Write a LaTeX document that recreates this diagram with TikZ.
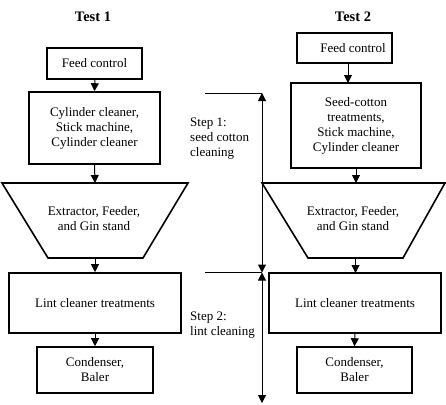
\documentclass[tikz,border=0pt]{standalone}
\usepackage{fontspec}
\setmainfont{Liberation Serif}
\usetikzlibrary{arrows.meta}
\begin{document}
\begin{tikzpicture}[x=1pt,y=-1pt,
  box/.style={draw, line width=1.6pt, inner sep=0pt, align=center, font=\fontsize{13}{15}\selectfont},
  txt/.style={inner sep=0pt, align=center, font=\fontsize{13}{15}\selectfont},
  steptxt/.style={inner sep=0pt, align=left, anchor=west, font=\fontsize{13}{15.2}\selectfont},
  title/.style={inner sep=0pt, font=\fontsize{14.5}{16}\selectfont\bfseries},
  trap/.style={draw, line width=1.6pt, line join=miter},
  arr/.style={-{Triangle[length=8pt,width=8pt]}, line width=1pt},
  dim/.style={{Triangle[length=8pt,width=8pt]}-{Triangle[length=8pt,width=8pt]}, line width=1pt},
  thin/.style={line width=1pt}
]
\useasboundingbox (0,0) rectangle (446,404);

% Titles
\node[title] (t1) at (93,17) {Test 1};
\node[title] (t2) at (353,17) {Test 2};

% Test 1 column
\node[box, minimum width=95pt, minimum height=31pt] (feed1) at (94.5,63.5) {Feed control};
\node[box, minimum width=131pt, minimum height=72pt] (cyl1) at (94.5,128) {Cylinder cleaner,\\Stick machine,\\Cylinder cleaner};
\draw[trap] (2,183) -- (188,183) -- (143,258) -- (48,258) -- cycle;
\coordinate (tr1top) at (95,183);
\coordinate (tr1bot) at (95,258);
\node[txt] (ext1) at (94,219) {Extractor, Feeder,\\and Gin stand};
\node[box, minimum width=172pt, minimum height=60pt] (lint1) at (95,303) {Lint cleaner treatments};
\node[box, minimum width=116pt, minimum height=46pt] (cond1) at (95,370) {Condenser,\\Baler};

\draw[arr] (95,79) -- (cyl1.north);
\draw[arr] (cyl1.south) -- (tr1top);
\draw[arr] (tr1bot) -- (lint1.north);
\draw[arr] (lint1.south) -- (cond1.north);

% Test 2 column
\node[box, minimum width=95pt, minimum height=30pt] (feed2) at (344.5,48) {\hspace*{17pt}Feed control};
\node[box, minimum width=130pt, minimum height=85pt] (seed2) at (356,125.5) {Seed-cotton\\treatments,\\Stick machine,\\Cylinder cleaner};
\draw[trap] (262,183) -- (445,183) -- (403,258) -- (308,258) -- cycle;
\coordinate (tr2top) at (356,183);
\coordinate (tr2bot) at (355.5,258);
\node[txt] (ext2) at (353,219) {Extractor, Feeder,\\and Gin stand};
\node[box, minimum width=172pt, minimum height=60pt] (lint2) at (355,303) {Lint cleaner treatments};
\node[box, minimum width=115pt, minimum height=46pt] (cond2) at (354.5,370) {Condenser,\\Baler};

\draw[arr] (348,63) -- (348,83);
\draw[arr] (seed2.south) -- (tr2top);
\draw[arr] (tr2bot) -- (355.5,273);
\draw[arr] (lint2.south) -- (cond2.north);

% Step indicators
\coordinate (s1a) at (205,93);
\coordinate (s1b) at (262,93);
\coordinate (s2a) at (205,272.5);
\coordinate (s2b) at (262,272.5);
\coordinate (s3b) at (262,403);
\draw[thin] (s1a) -- (s1b);
\draw[thin] (s2a) -- (s2b);
\draw[dim] (s1b) -- (s2b);
\draw[dim] (s2b) -- (s3b);
\node[steptxt] (step1) at (190,138.5) {Step 1:\\seed cotton\\cleaning};
\node[steptxt] (step2) at (190,325) {Step 2:\\lint cleaning};
\end{tikzpicture}
\end{document}
